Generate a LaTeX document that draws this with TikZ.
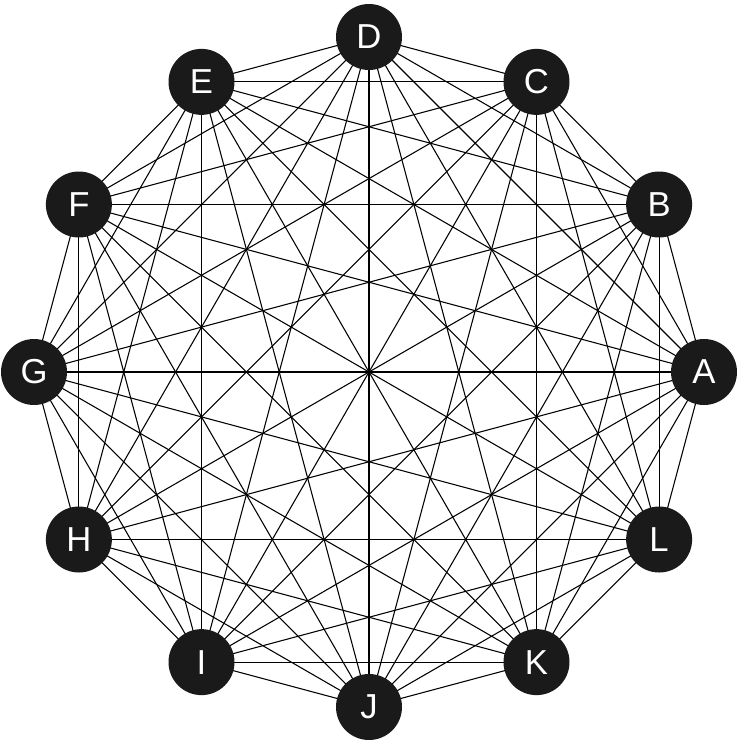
\documentclass[tikz,border=0pt]{standalone}
\usepackage{fontspec}
\setmainfont{Liberation Sans}
\definecolor{nodefill}{HTML}{1A1A1A}
\begin{document}
\begin{tikzpicture}[x=0.75pt,y=-0.75pt,
  vertex/.style={circle,fill=nodefill,draw=none,minimum size=49.5pt,inner sep=0pt,text=white,font=\fontsize{26}{26}\selectfont},
  edge/.style={draw=black,line width=0.8pt}]
\useasboundingbox (0,0) rectangle (737,740);
\foreach \n [count=\i from 0] in {A,B,C,D,E,F,G,H,I,J,K,L}{
  \coordinate (\n) at ({369+335*cos(30*\i)},{372-335*sin(30*\i)});
}
\foreach \a [count=\i] in {A,B,C,D,E,F,G,H,I,J,K,L}{
  \foreach \b [count=\j] in {A,B,C,D,E,F,G,H,I,J,K,L}{
    \ifnum\j>\i \draw[edge] (\a) -- (\b);\fi
  }
}
\foreach \n in {A,B,C,D,E,F,G,H,I,J,K,L}{
  \node[vertex] (n\n) at (\n) {\n};
}
\end{tikzpicture}
\end{document}
